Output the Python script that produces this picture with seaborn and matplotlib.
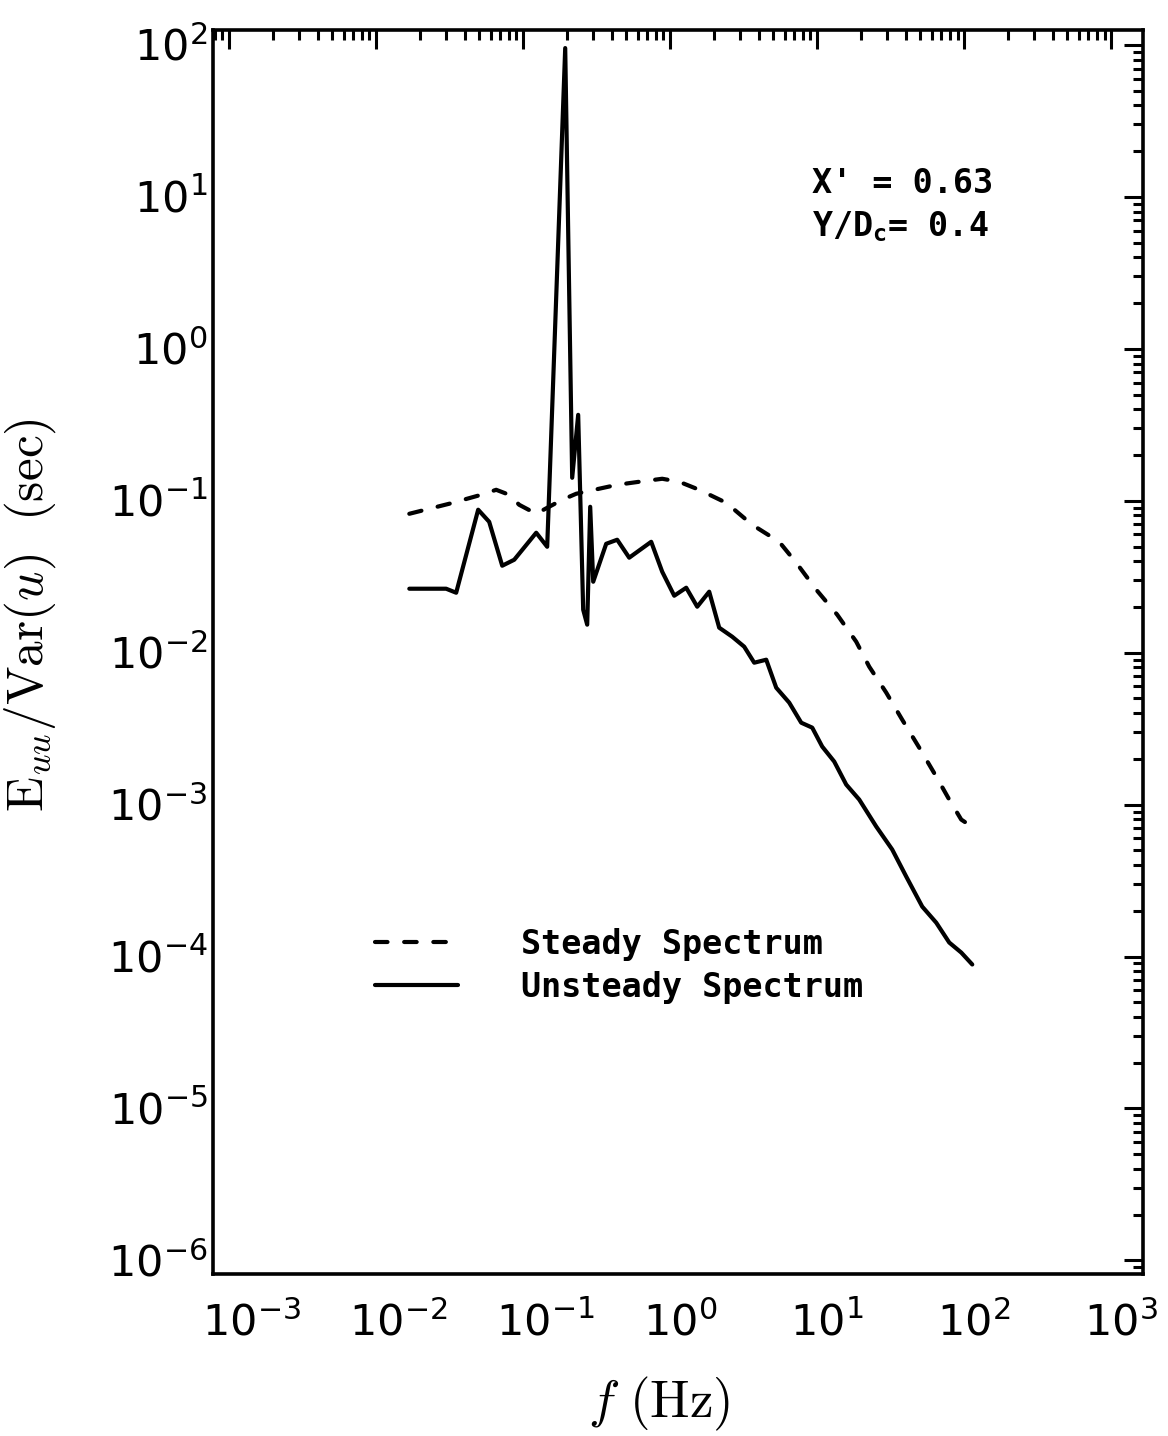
import numpy as np
import pandas as pd
import matplotlib
matplotlib.use("Agg")
import matplotlib.pyplot as plt
from matplotlib.ticker import FixedLocator, NullFormatter, LogFormatterMathtext
from matplotlib.font_manager import FontProperties
from matplotlib.transforms import ScaledTranslation
import seaborn as sns

# ---- data ----
freq_steady = [0.0168, 0.0314, 0.0518, 0.0655, 0.0803, 0.0939, 0.1226, 0.1456, 0.1842, 0.2293,
               0.3041, 0.4359, 0.6152, 0.8823, 1.151, 1.575, 2.404, 3.613, 5.513, 7.197,
               9.844, 13.68, 18.42, 22.58, 29.47, 37.86, 49.42, 64.49, 79.06, 95.41, 104.8]
e_steady = [0.0821, 0.0956, 0.1095, 0.1181, 0.1095, 0.0941, 0.0821, 0.0899, 0.1015, 0.1112,
            0.1181, 0.1274, 0.1334, 0.1396, 0.1334, 0.1181, 0.0970, 0.0695, 0.0537, 0.0391,
            0.0260, 0.01778, 0.01181, 0.00809, 0.00546, 0.00362, 0.00237, 0.00153, 0.001079,
            0.000797, 0.000750]

freq_unsteady = [0.0168, 0.0299, 0.0350, 0.0494, 0.0587, 0.0720, 0.0869, 0.1226, 0.1456, 0.1931,
                 0.2154, 0.2366, 0.2559, 0.2725, 0.2856, 0.2994, 0.3669, 0.4359, 0.5262, 0.7424,
                 0.8823, 1.065, 1.285, 1.527, 1.842, 2.154, 2.641, 3.187, 3.728, 4.499,
                 5.262, 6.449, 7.784, 9.248, 10.81, 13.05, 15.75, 19.31, 25.20, 32.37,
                 40.31, 51.80, 64.49, 79.06, 95.41, 113.4]
e_unsteady = [0.02637, 0.02637, 0.02481, 0.0873, 0.0727, 0.03736, 0.04091, 0.0616, 0.0498, 95.5,
              0.1417, 0.3679, 0.01918, 0.01529, 0.0913, 0.02932, 0.0521, 0.0554, 0.0422, 0.0537,
              0.0341, 0.02371, 0.02677, 0.02007, 0.02520, 0.01461, 0.01274, 0.01095, 0.00859, 0.00899,
              0.00588, 0.00469, 0.00346, 0.00321, 0.00241, 0.00192, 0.001354, 0.001079, 0.000717, 0.000506,
              0.000336, 0.000213, 0.000167, 0.0001236, 0.0001062, 8.86e-5]

series_names = ["Steady Spectrum", "Unsteady Spectrum"]
annot_lines = ["X' = 0.63", r"Y/D$_\mathdefault{c}$= 0.4"]
x_decades = [-3, -2, -1, 0, 1, 2, 3]
y_decades = [-6, -5, -4, -3, -2, -1, 0, 1, 2]

df = pd.concat([
    pd.DataFrame({"f": freq_steady, "E": e_steady, "series": series_names[0]}),
    pd.DataFrame({"f": freq_unsteady, "E": e_unsteady, "series": series_names[1]}),
], ignore_index=True)

sns.set_style("white")
plt.rcParams["font.family"] = ["DejaVu Sans"]
plt.rcParams["axes.edgecolor"] = "black"
plt.rcParams["axes.labelcolor"] = "black"
plt.rcParams["text.color"] = "black"
plt.rcParams["xtick.color"] = "black"
plt.rcParams["ytick.color"] = "black"
plt.rcParams["axes.unicode_minus"] = False

fig = plt.figure(figsize=(11.68, 14.36), dpi=100)
ax = fig.add_axes([213 / 1168, 1 - 1274 / 1436, 930 / 1168, 1244 / 1436])
ax.set_xscale("log")
ax.set_yscale("log")

sns.lineplot(data=df, x="f", y="E", hue="series", style="series",
             hue_order=series_names, style_order=series_names,
             palette={series_names[0]: "black", series_names[1]: "black"},
             dashes={series_names[0]: (3, 4), series_names[1]: ""},
             linewidth=3, estimator=None, sort=False, ax=ax)

for ln in ax.lines:
    ln.set_dash_capstyle("round")
    ln.set_solid_capstyle("round")
    ln.set_solid_joinstyle("round")
    ln.set_dash_joinstyle("round")

xlo, xhi = -3.11, 3.216
ylo, yhi = -6.09, 2.099
ax.set_xlim(10 ** xlo, 10 ** xhi)
ax.set_ylim(10 ** ylo, 10 ** yhi)


def minor_positions(lo, hi):
    out = []
    for k in range(int(np.floor(lo)) - 1, int(np.ceil(hi)) + 1):
        for m in range(2, 10):
            v = m * 10.0 ** k
            if 10 ** lo <= v <= 10 ** hi:
                out.append(v)
    return out


ax.xaxis.set_major_locator(FixedLocator([10.0 ** k for k in x_decades]))
ax.yaxis.set_major_locator(FixedLocator([10.0 ** k for k in y_decades]))
ax.xaxis.set_minor_locator(FixedLocator(minor_positions(xlo, xhi)))
ax.yaxis.set_minor_locator(FixedLocator(minor_positions(ylo, yhi)))
ax.xaxis.set_major_formatter(LogFormatterMathtext())
ax.yaxis.set_major_formatter(LogFormatterMathtext())
ax.xaxis.set_minor_formatter(NullFormatter())
ax.yaxis.set_minor_formatter(NullFormatter())

LABEL_SIZE = 31
ax.tick_params(which="both", direction="in", top=True, right=True, width=2.2, color="black")
ax.tick_params(which="major", length=14)
ax.tick_params(which="minor", length=7)
ax.tick_params(axis="x", which="major", pad=20, labelsize=LABEL_SIZE)
ax.tick_params(axis="y", which="major", pad=4, labelsize=LABEL_SIZE)

for sp in ax.spines.values():
    sp.set_linewidth(2.6)
    sp.set_color("black")

ax.set_xlabel(r"$f\ \mathrm{(Hz)}$", fontsize=38, math_fontfamily="cm")
ax.set_ylabel(r"$\mathrm{E}_{uu}/\mathrm{Var}(u)\ \ \mathrm{(sec)}$", fontsize=37, math_fontfamily="cm")
ax.xaxis.set_label_coords(0.48, -0.081)
ax.yaxis.set_label_coords(-0.167, 0.53)

mono = dict(family="DejaVu Sans Mono", weight="bold", size=24)
ax.text(0.644, 0.877, annot_lines[0], transform=ax.transAxes, va="center", ha="left", fontdict=mono)
ax.text(0.644, 0.842, annot_lines[1], transform=ax.transAxes, va="center", ha="left", fontdict=mono)

handles, labels = ax.get_legend_handles_labels()
leg = ax.legend(handles, labels, loc="center left", bbox_to_anchor=(0.174, 0.2476),
                frameon=False, prop=FontProperties(**mono), handlelength=2.5,
                handletextpad=1.9, labelspacing=0.3, borderpad=0, borderaxespad=0)
for lh in leg.get_lines():
    lh.set_linewidth(3)
    lh.set_dash_capstyle("round")

# place the "10" of each tick label on its tick, superscript off to the side (as in the reference)
px = LABEL_SIZE / 72 * 100  # font size in pixels
half_ten = 0.636 * px       # half width of "10"
half_digit_h = 0.729 * px / 2
for tk in ax.xaxis.get_major_ticks():
    lab = tk.label1
    lab.set_ha("left")
    lab.set_transform(lab.get_transform() + ScaledTranslation(-half_ten / 100, 0, fig.dpi_scale_trans))
for tk in ax.yaxis.get_major_ticks():
    lab = tk.label1
    lab.set_va("baseline")
    lab.set_transform(lab.get_transform() + ScaledTranslation(0, -half_digit_h / 100, fig.dpi_scale_trans))

fig.savefig("out.png", dpi=100, facecolor="white")
